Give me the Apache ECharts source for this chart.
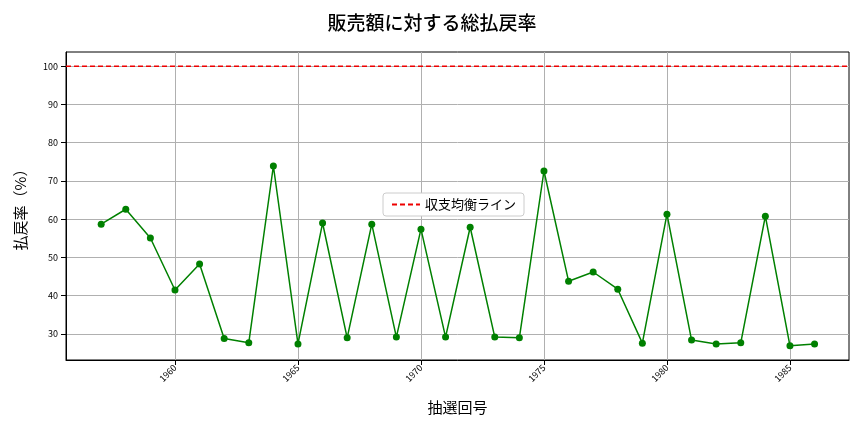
<!DOCTYPE html><html><head><meta charset="utf-8"><script src="https://cdn.jsdelivr.net/npm/echarts@6/dist/echarts.min.js"></script></head><body style="margin:0"><div id="c" style="width:864px;height:432px"></div><script>
const draws=[1957,1958,1959,1960,1961,1962,1963,1964,1965,1966,1967,1968,1969,1970,1971,1972,1973,1974,1975,1976,1977,1978,1979,1980,1981,1982,1983,1984,1985,1986];
const rates=[58.7,62.6,55.1,41.5,48.3,28.8,27.7,73.9,27.4,59.0,29.0,58.7,29.2,57.4,29.2,57.9,29.2,29.0,72.6,43.8,46.2,41.7,27.6,61.3,28.4,27.4,27.7,60.8,26.9,27.4];
const xTicks=[1960,1965,1970,1975,1980,1985];
const yTicks=[30,40,50,60,70,80,90,100];
const breakEven=100;
const xMin=1955.57,xMax=1987.4,yMin=23.2,yMax=103.7;
const f='"Noto Sans CJK JP"';
const ch=echarts.init(document.getElementById('c'));
ch.setOption({animation:false,
title:{text:'販売額に対する総払戻率',left:'center',top:8,textStyle:{fontFamily:f,fontSize:19,fontWeight:500,color:'#000'}},
legend:{data:['収支均衡ライン'],left:383,top:193,orient:'vertical',backgroundColor:'#fff',borderColor:'#ccc',borderWidth:1,borderRadius:3,padding:[5,8],itemWidth:28,itemStyle:{opacity:0},textStyle:{fontFamily:f,fontSize:13,color:'#000'}},
grid:{left:66,right:15,top:52,bottom:72,show:true,borderColor:'#000',borderWidth:1},
xAxis:{type:'value',min:xMin,max:xMax,name:'抽選回号',nameLocation:'middle',nameGap:40,nameTextStyle:{fontFamily:f,fontSize:15,color:'#000'},
axisLine:{lineStyle:{color:'#000'}},axisTick:{customValues:xTicks,lineStyle:{color:'#000'}},axisLabel:{customValues:xTicks,rotate:45,margin:6,fontSize:9,color:'#000',fontFamily:f,formatter:v=>String(v)},splitLine:{show:true,lineStyle:{color:'#b0b0b0'}}},
yAxis:{type:'value',min:yMin,max:yMax,name:'払戻率（%）',nameLocation:'middle',nameGap:38,nameTextStyle:{fontFamily:f,fontSize:15,color:'#000'},
axisLine:{show:true,lineStyle:{color:'#000'}},axisTick:{show:true,customValues:yTicks,lineStyle:{color:'#000'}},axisLabel:{customValues:yTicks,fontSize:9,color:'#000',fontFamily:f},splitLine:{show:true,lineStyle:{color:'#b0b0b0'}}},
series:[
{name:'払戻率',type:'line',data:draws.map((d,i)=>[d,rates[i]]),color:'green',symbol:'circle',symbolSize:7,lineStyle:{width:1.5,color:'green'},itemStyle:{color:'green'}},
{name:'収支均衡ライン',type:'line',data:[[xMin,breakEven],[xMax,breakEven]],symbol:'none',color:'#e00',lineStyle:{type:[5,3],width:1.5,color:'#e00'}}
]});
</script></body></html>
